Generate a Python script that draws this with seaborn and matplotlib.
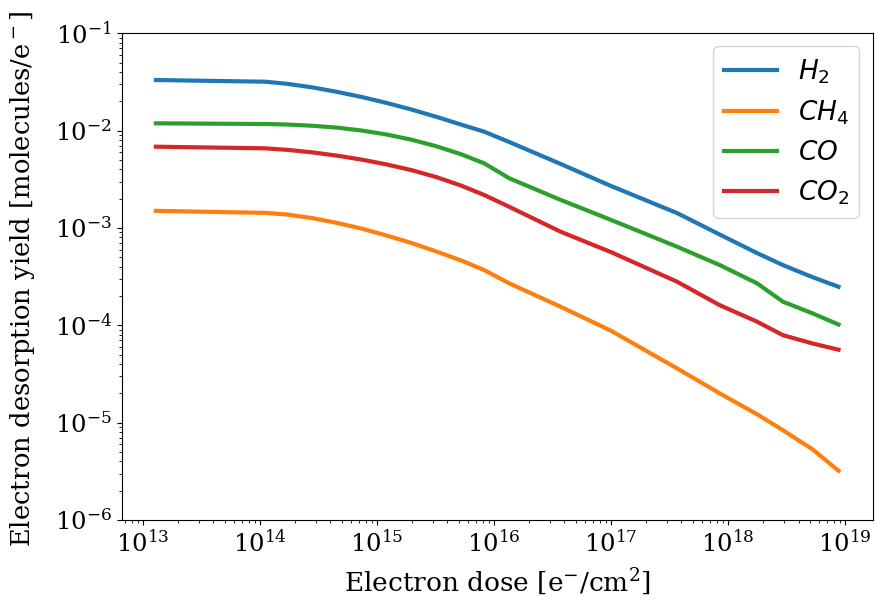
import matplotlib
matplotlib.use("Agg")
import matplotlib.pyplot as plt
import seaborn as sns
import numpy as np
import pandas as pd

dose = [1.29e13, 1.11e14, 1.71e14, 2.79e14, 4.55e14, 7.43e14, 1.21e15, 1.98e15,
        3.23e15, 5.26e15, 8.26e15, 1.35e16, 3.72e16, 1.0e17, 3.68e17, 8.5e17,
        1.77e18, 2.94e18, 5.25e18, 8.79e18]
h2 = [0.0331, 0.0318, 0.03027, 0.02783, 0.02502, 0.02213, 0.01924, 0.01645,
      0.01384, 0.01151, 0.00975, 0.00764, 0.00454, 0.00270, 0.00142, 0.000856,
      0.000552, 0.000416, 0.000313, 0.000249]
ch4 = [0.00150, 0.00143, 0.001373, 0.001264, 0.001128, 0.000984, 0.000837, 0.000700,
       0.000573, 0.000463, 0.000369, 0.000270, 0.000155, 8.8e-5, 3.6e-5, 2.0e-5,
       1.22e-5, 8.37e-6, 5.34e-6, 3.21e-6]
co = [0.01189, 0.01170, 0.011553, 0.011231, 0.010735, 0.010023, 0.009120, 0.008062,
      0.006898, 0.005706, 0.00461, 0.00324, 0.00194, 0.00121, 0.000641, 0.000416,
      0.000270, 0.000175, 0.000133, 0.000102]
co2 = [0.00684, 0.00658, 0.006349, 0.005984, 0.005535, 0.005035, 0.004494, 0.003926,
       0.003326, 0.002720, 0.00218, 0.00165, 0.000914, 0.000565, 0.000280, 0.000161,
       0.000109, 7.93e-5, 6.52e-5, 5.62e-5]
labels = ["$H_2$", "$CH_4$", "$CO$", "$CO_2$"]
colors = ["#1f77b4", "#ff7f0e", "#2ca02c", "#d62728"]

rows = []
for lab, ys in zip(labels, [h2, ch4, co, co2]):
    for x, y in zip(dose, ys):
        rows.append({"dose": x, "yield": y, "gas": lab})
df = pd.DataFrame(rows)

plt.rcParams["font.family"] = ["DejaVu Serif"]
plt.rcParams["mathtext.fontset"] = "dejavuserif"

fig = plt.figure(figsize=(8.79, 6.04), dpi=100)
ax = fig.add_axes([0.1385, 0.139, 0.8543, 0.8059])
sns.lineplot(data=df, x="dose", y="yield", hue="gas", hue_order=labels,
             palette=colors, linewidth=3, ax=ax)
ax.set_xscale("log")
ax.set_yscale("log")
ax.set_ylim(1e-6, 1e-1)
ax.set_xlabel("Electron dose [e$^{-}$/cm$^2$]", fontsize=19, labelpad=7)
ax.set_ylabel("Electron desorption yield [molecules/e$^-$]", fontsize=18.5)
ax.yaxis.set_label_coords(-0.113, 0.495)
ax.tick_params(axis="both", which="major", labelsize=17.5)
leg = ax.legend(loc="upper right", fontsize=19, handlelength=2.0)
for t in leg.get_texts():
    t.set_math_fontfamily("dejavusans")
for l in leg.get_lines():
    l.set_linewidth(3)
fig.savefig("out.png", dpi=100)
